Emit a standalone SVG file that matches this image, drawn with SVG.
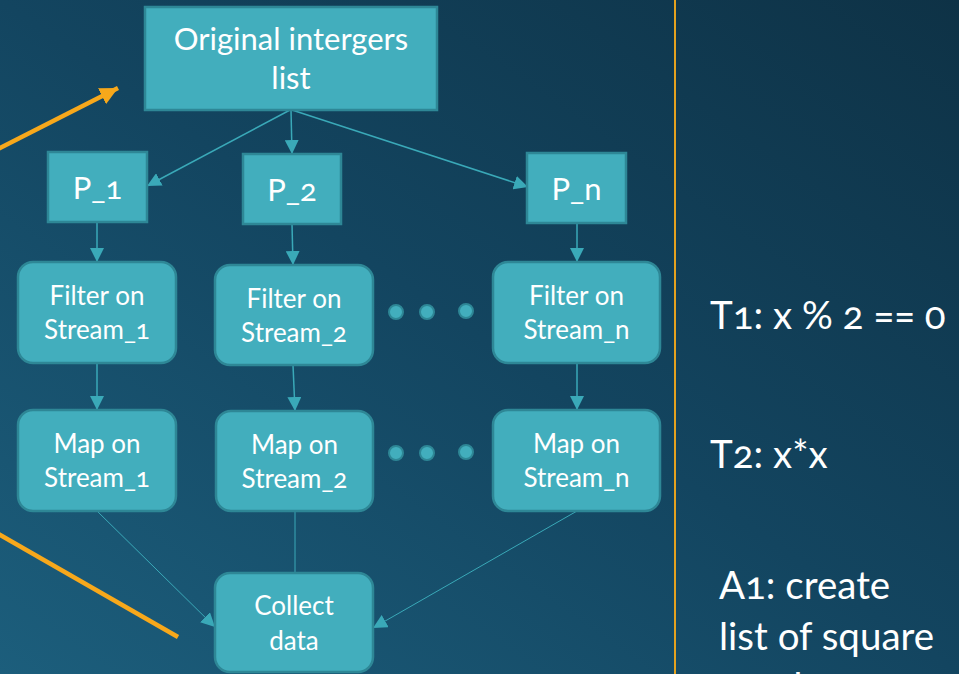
<svg xmlns="http://www.w3.org/2000/svg" width="959" height="674" viewBox="0 0 959 674">
  <defs>
    <linearGradient id="bg" x1="1" y1="0" x2="0" y2="1">
      <stop offset="0" stop-color="#0e3246"/>
      <stop offset="0.5" stop-color="#134560"/>
      <stop offset="1" stop-color="#1c5e7c"/>
    </linearGradient>
    <marker id="tealHead" markerUnits="userSpaceOnUse" markerWidth="16" markerHeight="14" refX="14" refY="7" orient="auto">
      <path d="M0,0 L14,7 L0,14 Z" fill="#3aa9b8"/>
    </marker>
    <marker id="orangeHead" markerUnits="userSpaceOnUse" markerWidth="20" markerHeight="18" refX="18" refY="9" orient="auto">
      <path d="M0,0 L18,9 L0,18 Z" fill="#f7a81b"/>
    </marker>
    <style>
      .box { fill: #42aebd; stroke: #2e8796; stroke-width: 2.5; }
      .dot { fill: #42aebd; stroke: #2e8796; stroke-width: 2; }
      .lbl { fill: #ffffff; font-family: Lato, "Open Sans", "Liberation Sans", sans-serif; text-anchor: middle; font-variant-numeric: oldstyle-nums; }
      .big { font-size: 31px; }
      .mid { font-size: 26px; }
      .side { fill: #ffffff; font-family: Lato, "Open Sans", "Liberation Sans", sans-serif; font-size: 38.5px; font-variant-numeric: oldstyle-nums; }
      .flow { stroke: #3aa9b8; stroke-width: 1.5; fill: none; }
      .thin { stroke: #3aa9b8; stroke-width: 1; fill: none; }
      .accent { stroke: #f7a81b; stroke-width: 4.5; fill: none; }
    </style>
  </defs>

  <rect width="959" height="674" fill="url(#bg)"/>

  <!-- separator and pointer strokes -->
  <line x1="675" y1="0" x2="675" y2="674" stroke="#e5a21f" stroke-width="2"/>
  <line class="accent" x1="-5" y1="150.5" x2="118" y2="88" marker-end="url(#orangeHead)"/>
  <line class="accent" x1="-5" y1="532" x2="178" y2="637"/>

  <!-- connectors -->
  <g id="connectors">
    <line class="flow" x1="290" y1="110" x2="147" y2="186" marker-end="url(#tealHead)"/>
    <line class="flow" x1="291" y1="110" x2="292" y2="154" marker-end="url(#tealHead)"/>
    <line class="flow" x1="292" y1="110" x2="528" y2="187" marker-end="url(#tealHead)"/>
    <line class="flow" x1="97" y1="222" x2="97" y2="262" marker-end="url(#tealHead)"/>
    <line class="flow" x1="292" y1="224" x2="293" y2="265" marker-end="url(#tealHead)"/>
    <line class="flow" x1="577" y1="223" x2="577" y2="262" marker-end="url(#tealHead)"/>
    <line class="flow" x1="97" y1="363" x2="97" y2="410" marker-end="url(#tealHead)"/>
    <line class="flow" x1="293" y1="365" x2="295" y2="411" marker-end="url(#tealHead)"/>
    <line class="flow" x1="577" y1="363" x2="577" y2="410" marker-end="url(#tealHead)"/>
    <line class="thin" x1="97" y1="511" x2="215" y2="627" marker-end="url(#tealHead)"/>
    <line class="thin" x1="295" y1="511" x2="295" y2="573"/>
    <line class="thin" x1="577" y1="511" x2="373" y2="628" marker-end="url(#tealHead)"/>
  </g>

  <g id="original">
    <rect class="box" x="145" y="7" width="292" height="103"/>
    <text class="lbl big" x="291" y="50">Original intergers</text>
    <text class="lbl big" x="291" y="89">list</text>
  </g>

  <g id="p1">
    <rect class="box" x="48" y="152" width="99" height="70"/>
    <text class="lbl big" x="97.5" y="199">P_1</text>
  </g>
  <g id="p2">
    <rect class="box" x="243" y="154" width="98" height="70"/>
    <text class="lbl big" x="292" y="201">P_2</text>
  </g>
  <g id="pn">
    <rect class="box" x="527" y="153" width="99" height="70"/>
    <text class="lbl big" x="576.5" y="200">P_n</text>
  </g>

  <g id="filter1">
    <rect class="box" x="18" y="262" width="158" height="101" rx="15"/>
    <text class="lbl mid" x="97" y="305">Filter on</text>
    <text class="lbl mid" x="97" y="339">Stream_1</text>
  </g>
  <g id="filter2">
    <rect class="box" x="215" y="265" width="158" height="100" rx="15"/>
    <text class="lbl mid" x="294" y="308">Filter on</text>
    <text class="lbl mid" x="294" y="342">Stream_2</text>
  </g>
  <g id="filtern">
    <rect class="box" x="493" y="262" width="167" height="101" rx="15"/>
    <text class="lbl mid" x="576.5" y="305">Filter on</text>
    <text class="lbl mid" x="576.5" y="339">Stream_n</text>
  </g>

  <g id="map1">
    <rect class="box" x="18" y="410" width="158" height="101" rx="15"/>
    <text class="lbl mid" x="97" y="453">Map on</text>
    <text class="lbl mid" x="97" y="487">Stream_1</text>
  </g>
  <g id="map2">
    <rect class="box" x="216" y="411" width="157" height="100" rx="15"/>
    <text class="lbl mid" x="294.5" y="454">Map on</text>
    <text class="lbl mid" x="294.5" y="488">Stream_2</text>
  </g>
  <g id="mapn">
    <rect class="box" x="493" y="410" width="167" height="101" rx="15"/>
    <text class="lbl mid" x="576.5" y="453">Map on</text>
    <text class="lbl mid" x="576.5" y="487">Stream_n</text>
  </g>

  <g id="collect">
    <rect class="box" x="215" y="573" width="158" height="99" rx="15"/>
    <text class="lbl mid" x="294" y="615">Collect</text>
    <text class="lbl mid" x="294" y="650">data</text>
  </g>

  <!-- ellipsis dots between columns -->
  <g id="ellipsis">
    <circle class="dot" cx="396" cy="312" r="7"/>
    <circle class="dot" cx="427" cy="312" r="7"/>
    <circle class="dot" cx="466" cy="311" r="7"/>
    <circle class="dot" cx="396" cy="453" r="7"/>
    <circle class="dot" cx="427" cy="453" r="7"/>
    <circle class="dot" cx="466" cy="452" r="7"/>
  </g>

  <!-- notes on the right; the last line runs past the bottom edge -->
  <g id="notes">
    <text class="side" x="710" y="329">T1: x % 2 == 0</text>
    <text class="side" x="710" y="468">T2: x*x</text>
    <text class="side" x="719" y="599">A1: create</text>
    <text class="side" x="719" y="650">list of square</text>
    <text class="side" x="719" y="700">numbers</text>
  </g>
</svg>
